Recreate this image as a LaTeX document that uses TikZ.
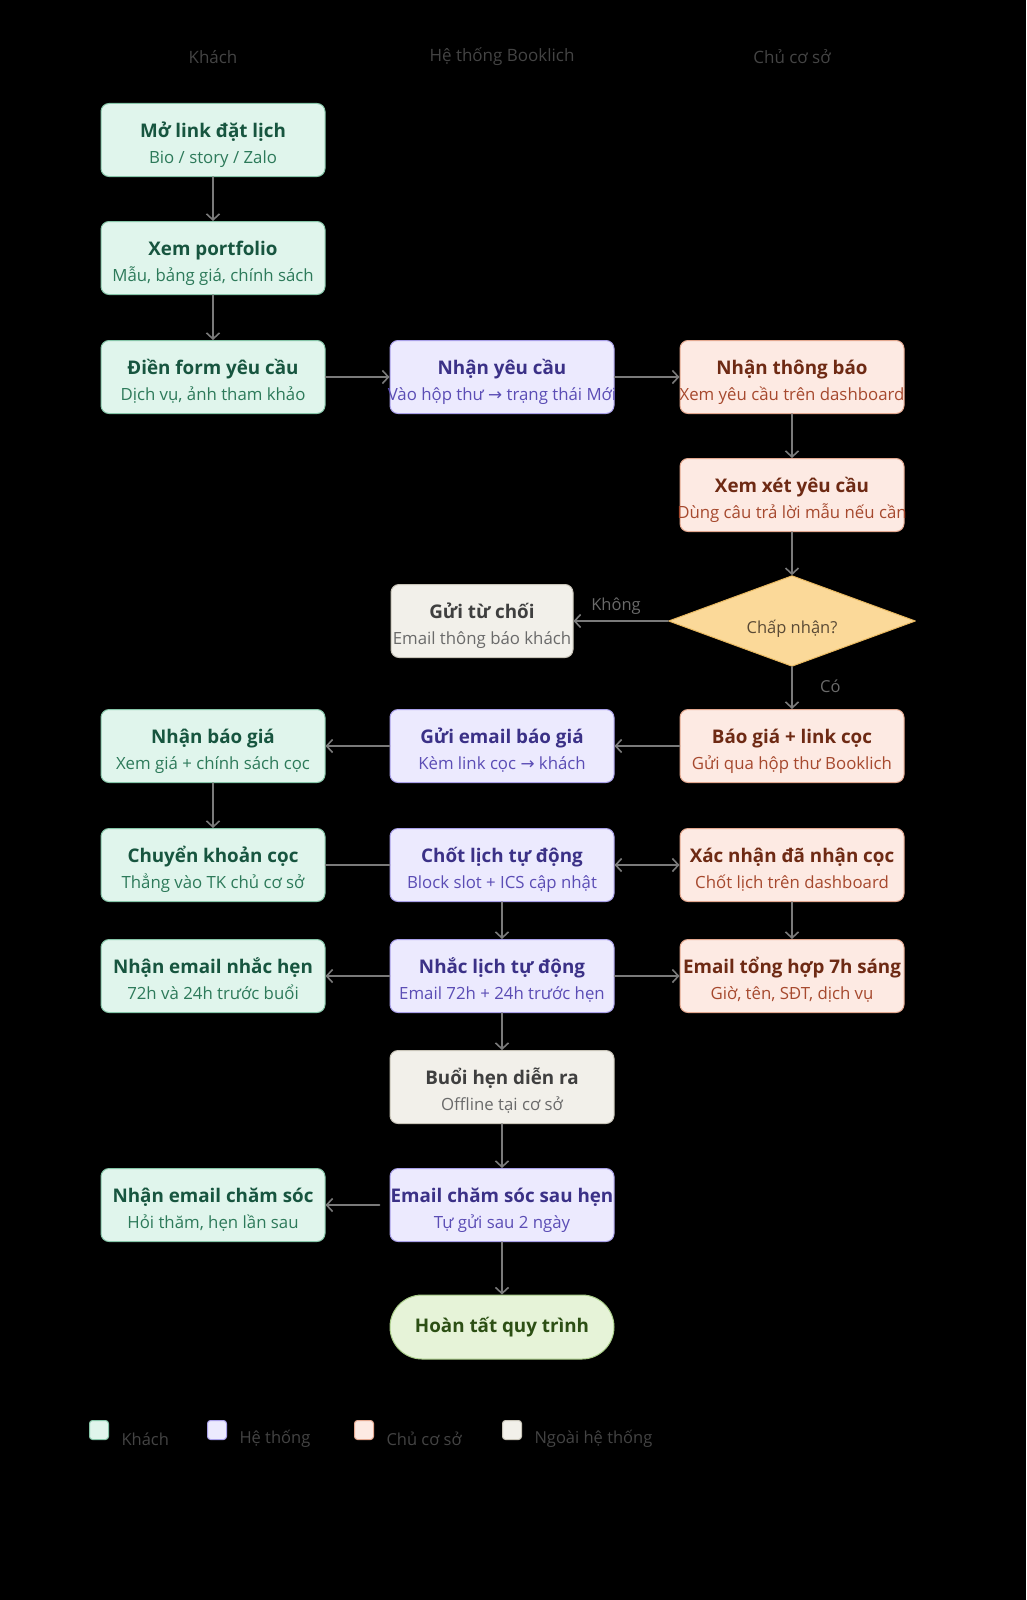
\documentclass[tikz,border=0pt]{standalone}
\usepackage{fontspec}
\setmainfont{Open Sans}
\newfontfamily\symfont{DejaVu Sans}
\usetikzlibrary{shapes.geometric,arrows.meta,calc,positioning}

\definecolor{gfill}{HTML}{E0F5EC}\definecolor{gline}{HTML}{86C5A8}
\definecolor{gtext}{HTML}{17553F}\definecolor{gsub}{HTML}{2D7A5A}
\definecolor{sfill}{HTML}{ECEAFE}\definecolor{sline}{HTML}{A9A0E8}
\definecolor{stext}{HTML}{3B3187}\definecolor{ssub}{HTML}{5B4DB5}
\definecolor{ofill}{HTML}{FDEAE3}\definecolor{oline}{HTML}{E3A890}
\definecolor{otext}{HTML}{6E2A14}\definecolor{osub}{HTML}{A6492E}
\definecolor{xfill}{HTML}{F2F0EA}\definecolor{xline}{HTML}{C8C4B8}
\definecolor{xtext}{HTML}{3F3F3F}\definecolor{xsub}{HTML}{6A6A6A}
\definecolor{dfill}{HTML}{FBD999}\definecolor{dline}{HTML}{E8B860}
\definecolor{dtext}{HTML}{5A4A35}
\definecolor{ffill}{HTML}{E6F3D8}\definecolor{fline}{HTML}{A8CC88}
\definecolor{ftext}{HTML}{2C4F14}
\definecolor{arr}{HTML}{7A7A7A}
\definecolor{hdr}{HTML}{444444}

\newcommand{\two}[2]{\makebox[0pt]{\rule{0pt}{26pt}\bfseries\fontsize{18.8}{26}\selectfont #1}\\\makebox[0pt]{\rule[-6pt]{0pt}{6pt}\color{subc}#2}}
\newcommand{\ra}{{\symfont →}}

\tikzset{
  base/.style={rounded corners=8pt, minimum width=224pt, minimum height=73pt, align=center,
    line width=1pt, inner sep=0pt, font=\fontsize{16.8}{26}\selectfont},
  guest/.style={base, fill=gfill, draw=gline, text=gtext, execute at begin node={\colorlet{subc}{gsub}}},
  sys/.style={base, fill=sfill, draw=sline, text=stext, execute at begin node={\colorlet{subc}{ssub}}},
  owner/.style={base, fill=ofill, draw=oline, text=otext, execute at begin node={\colorlet{subc}{osub}}},
  outside/.style={base, fill=xfill, draw=xline, text=xtext, execute at begin node={\colorlet{subc}{xsub}}},
  flow/.style={draw=arr, line width=1.6pt, -{Straight Barb[length=6pt,width=13pt]}},
  lbl/.style={text=xsub, font=\fontsize{16.5}{18}\selectfont},
  hdrtext/.style={text=hdr, font=\fontsize{17}{18}\selectfont},
  leg/.style={rounded corners=3pt, minimum size=19pt, inner sep=0pt, line width=1pt}
}

\begin{document}
\begin{tikzpicture}[x=1pt,y=-1pt,line join=round,line cap=round]
\fill[black] (0,0) rectangle (1026,1600);
% lane headers
\node[hdrtext] (hG) at (213,57) {Khách};
\node[hdrtext] (hS) at (502,57) {Hệ thống Booklich};
\node[hdrtext] (hO) at (792,57) {Chủ cơ sở};
% nodes
\node[guest] (G1) at (213,140) {\two{Mở link đặt lịch}{Bio / story / Zalo}};
\node[guest] (G2) at (213,258) {\two{Xem portfolio}{Mẫu, bảng giá, chính sách}};
\node[guest] (G3) at (213,377) {\two{Điền form yêu cầu}{Dịch vụ, ảnh tham khảo}};
\node[sys] (S3) at (502,377) {\two{Nhận yêu cầu}{Vào hộp thư \ra{} trạng thái Mới}};
\node[owner] (O3) at (792,377) {\two{Nhận thông báo}{Xem yêu cầu trên dashboard}};
\node[owner] (O4) at (792,495) {\two{Xem xét yêu cầu}{Dùng câu trả lời mẫu nếu cần}};
\node[diamond, fill=dfill, draw=dline, line width=1pt, minimum width=247pt, minimum height=87pt,
  inner sep=0pt, text=dtext, font=\fontsize{16.5}{18}\selectfont] (D) at (792,621) {\raisebox{-12pt}[0pt][0pt]{Chấp nhận?}};
\node[outside, minimum width=182pt] (R) at (482,621) {\two{Gửi từ chối}{Email thông báo khách}};
\node[owner] (O6) at (792,746) {\two{Báo giá + link cọc}{Gửi qua hộp thư Booklich}};
\node[sys] (S6) at (502,746) {\two{Gửi email báo giá}{Kèm link cọc \ra{} khách}};
\node[guest] (G6) at (213,746) {\two{Nhận báo giá}{Xem giá + chính sách cọc}};
\node[guest] (G7) at (213,865) {\two{Chuyển khoản cọc}{Thẳng vào TK chủ cơ sở}};
\node[sys] (S7) at (502,865) {\two{Chốt lịch tự động}{Block slot + ICS cập nhật}};
\node[owner] (O7) at (792,865) {\two{Xác nhận đã nhận cọc}{Chốt lịch trên dashboard}};
\node[guest] (G8) at (213,976) {\two{Nhận email nhắc hẹn}{72h và 24h trước buổi}};
\node[sys] (S8) at (502,976) {\two{Nhắc lịch tự động}{Email 72h + 24h trước hẹn}};
\node[owner] (O8) at (792,976) {\two{Email tổng hợp 7h sáng}{Giờ, tên, SĐT, dịch vụ}};
\node[outside] (X9) at (502,1087) {\two{Buổi hẹn diễn ra}{Offline tại cơ sở}};
\node[sys] (S10) at (502,1205) {\two{Email chăm sóc sau hẹn}{Tự gửi sau 2 ngày}};
\node[guest] (G10) at (213,1205) {\two{Nhận email chăm sóc}{Hỏi thăm, hẹn lần sau}};
\node[base, rounded corners=32pt, minimum height=64pt, fill=ffill, draw=fline, text=ftext,
  font=\bfseries\fontsize{18.8}{22}\selectfont] (F) at (502,1327) {Hoàn tất quy trình};
% connectors
\draw[flow] (G1) -- (G2);
\draw[flow] (G2) -- (G3);
\draw[flow] (G3) -- (S3);
\draw[flow] (S3) -- (O3);
\draw[flow] (O3) -- (O4);
\draw[flow] (O4) -- (D);
\draw[flow] (D) -- node[lbl, above, pos=0.55, yshift=2pt] (lNo) {Không} (R);
\draw[flow] (D) -- node[lbl, right, pos=0.45, xshift=24pt] (lYes) {Có} (O6);
\draw[flow] (O6) -- (S6);
\draw[flow] (S6) -- (G6);
\draw[flow] (G6) -- (G7);
\draw[draw=arr, line width=1.6pt] (G7) -- (S7);
\draw[flow, {Straight Barb[length=6pt,width=13pt]}-{Straight Barb[length=6pt,width=13pt]}] (S7) -- (O7);
\draw[flow] (O7) -- (O8);
\draw[flow] (S7) -- (S8);
\draw[flow] (S8) -- (G8);
\draw[flow] (S8) -- (O8);
\draw[flow] (S8) -- (X9);
\draw[flow] (X9) -- (S10);
\draw[flow, shorten <=10pt] (S10) -- (G10);
\draw[flow] (S10) -- (F);
% legend
\foreach \n/\x/\f/\l/\t in {lg/99/gfill/gline/Khách, ls/217/sfill/sline/Hệ thống,
  lo/364/ofill/oline/Chủ cơ sở, lx/512/xfill/xline/Ngoài hệ thống}{
  \node[leg, fill=\f, draw=\l] (\n) at (\x,1430) {};
  \node[hdrtext, anchor=west, font=\fontsize{16.5}{18}\selectfont] (\n t) at ($(\n.east)+(9,9)$) {\t};
}
\end{tikzpicture}
\end{document}
